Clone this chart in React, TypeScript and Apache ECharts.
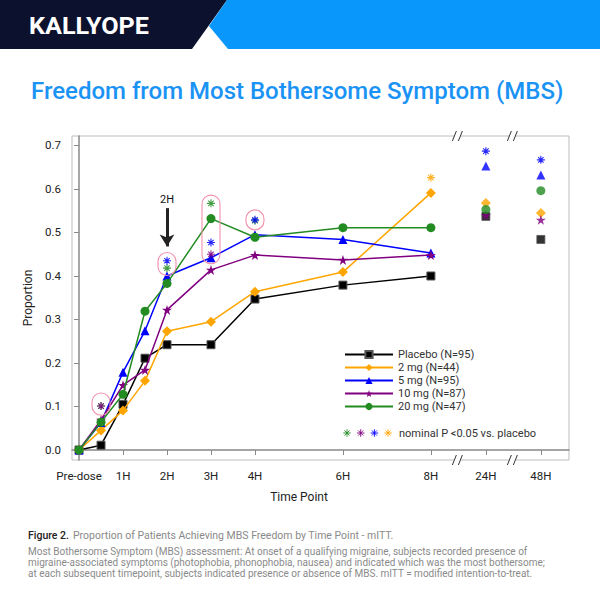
import React, { useEffect, useRef } from "react";
import * as echarts from "echarts";

// ---------- data ----------
const seriesNames = ["Placebo (N=95)", "2 mg (N=44)", "5 mg (N=95)", "10 mg (N=87)", "20 mg (N=47)"];
const seriesColors = ["#000000", "#FFA500", "#0000FF", "#800080", "#228B22"];

const earlyHours = [0, 0.5, 1, 1.5, 2, 3, 4, 6, 8];
const lateHours = [24, 48];

const placebo = [0, 0.011, 0.105, 0.211, 0.242, 0.242, 0.347, 0.379, 0.4];
const placeboLate = [0.537, 0.484];
const mg2 = [0, 0.045, 0.091, 0.159, 0.273, 0.295, 0.364, 0.409, 0.591];
const mg2Late = [0.568, 0.545];
const mg5 = [0, 0.063, 0.179, 0.274, 0.4, 0.442, 0.495, 0.484, 0.453];
const mg5Late = [0.653, 0.632];
const mg10 = [0, 0.069, 0.149, 0.184, 0.322, 0.414, 0.448, 0.437, 0.448];
const mg10Late = [0.54, 0.529];
const mg20 = [0, 0.064, 0.128, 0.319, 0.383, 0.532, 0.489, 0.511, 0.511];
const mg20Late = [0.553, 0.596];

// significance asterisks: [hour, value]
const sigGreen = [[0.5, 0.101], [2, 0.418], [3, 0.567], [4, 0.527]];
const sigPurple = [[0.5, 0.101], [3, 0.45]];
const sigBlue = [[2, 0.435], [3, 0.477], [4, 0.529], [24, 0.687], [48, 0.667]];
const sigOrange = [[8, 0.626]];

// highlight capsules: hour, low value, high value
const capsuleHours = [0.5, 2, 3, 4];
const capsuleLow = [0.08, 0.401, 0.428, 0.506];
const capsuleHigh = [0.131, 0.454, 0.586, 0.552];

const tickHours = [0, 1, 2, 3, 4, 6, 8, 24, 48];
const tickLabels = ["Pre-dose", "1H", "2H", "3H", "4H", "6H", "8H", "24H", "48H"];
const yTicks = [0, 0.1, 0.2, 0.3, 0.4, 0.5, 0.6, 0.7];

// broken time axis: hours after 8H are placed at compressed positions
const brokenPositions: Record<number, number> = { 24: 9.25, 48: 10.5 };
const breakHours = [8.625, 9.875];
const axisPos = (h: number) => (h <= 8 ? h : brokenPositions[h]);

const FONT = "Roboto, 'Noto Sans', sans-serif";
const STAR = "path://M50,0 L61.8,35.1 L98.9,35.1 L68.9,56.8 L80.3,91.9 L50,70.2 L19.7,91.9 L31.1,56.8 L1.1,35.1 L38.2,35.1 Z";
const ASTER = "path://M5,0 L5,10 M0,5 L10,5 M1.6,1.6 L8.4,8.4 M8.4,1.6 L1.6,8.4";
const symbols = ["rect", "diamond", "triangle", STAR, "circle"];
const symbolSizes = [8, 10, 9, 10, 9];

const Y_MIN = -0.023;
const Y_MAX = 0.7218;

echarts.graphic.registerShape(
  "asterisk",
  echarts.graphic.extendPath("M0,-5 L0,5 M-5,0 L5,0 M-3.4,-3.4 L3.4,3.4 M3.4,-3.4 L-3.4,3.4", {})
);

function buildOption() {
  const early = [placebo, mg2, mg5, mg10, mg20];
  const late = [placeboLate, mg2Late, mg5Late, mg10Late, mg20Late];
  const series: any[] = [];
  early.forEach((vals, i) => {
    series.push({
      name: seriesNames[i],
      type: "line",
      data: earlyHours.map((h, k) => [axisPos(h), vals[k]]),
      symbol: symbols[i],
      symbolSize: symbolSizes[i],
      lineStyle: { color: seriesColors[i], width: 1.5 },
      itemStyle: i === 0
        ? { color: "#000", borderColor: "#555", borderWidth: 1 }
        : { color: seriesColors[i] },
      z: 3 + i,
    });
  });
  late.forEach((vals, i) => {
    series.push({
      name: seriesNames[i],
      type: "scatter",
      data: lateHours.map((h, k) => [axisPos(h), vals[k]]),
      symbol: symbols[i],
      symbolSize: symbolSizes[i],
      itemStyle: i === 0
        ? { color: "#000", borderColor: "#555", borderWidth: 1 }
        : { color: seriesColors[i] },
      z: 3 + i,
    });
  });
  const sigs: [number[][], string][] = [
    [sigGreen, seriesColors[4]],
    [sigPurple, seriesColors[3]],
    [sigBlue, seriesColors[2]],
    [sigOrange, seriesColors[1]],
  ];
  sigs.forEach(([pts, c]) => {
    series.push({
      type: "scatter",
      data: pts.map((p) => [axisPos(p[0]), p[1]]),
      symbol: ASTER,
      symbolSize: 8,
      itemStyle: { color: "transparent", borderColor: c, borderWidth: 1.1, opacity: 0.85 },
      z: 10,
      silent: true,
    });
  });
  series.push({
    type: "line",
    data: [],
    silent: true,
    markLine: {
      silent: true,
      animation: false,
      symbol: ["none", "arrow"],
      symbolSize: [11, 12],
      lineStyle: { color: "#222", width: 3, type: "solid" },
      label: { show: true, position: "start", formatter: "2H", color: "#111", fontSize: 11, fontFamily: FONT, distance: 3 },
      data: [[{ coord: [axisPos(2), 0.556] }, { coord: [axisPos(2), 0.468] }]],
    },
  });

  return {
    animation: false,
    backgroundColor: "#ffffff",
    grid: {
      left: 72,
      right: 31,
      top: 136,
      bottom: 140,
      show: true,
      borderColor: "#bdbdbd",
      borderWidth: 1,
      outerBoundsMode: "none",
    },
    legend: {
      orient: "vertical",
      left: 339,
      top: 343,
      itemWidth: 48,
      itemHeight: 9,
      itemGap: 0,
      selectedMode: false,
      data: seriesNames,
      textStyle: { fontSize: 11, color: "#333", fontFamily: FONT, lineHeight: 13 },
    },
    xAxis: {
      type: "value",
      min: -0.16,
      max: 11.14,
      axisLine: { show: true, lineStyle: { color: "#888", width: 1.5 } },
      axisTick: { show: true, length: 5, lineStyle: { color: "#888" }, customValues: tickHours.map(axisPos) },
      axisLabel: {
        customValues: tickHours.map(axisPos),
        formatter: (v: number) => {
          const idx = tickHours.findIndex((h) => Math.abs(axisPos(h) - v) < 1e-6);
          return idx >= 0 ? tickLabels[idx] : "";
        },
        color: "#222",
        fontSize: 11.5,
        fontFamily: FONT,
        margin: 10,
      },
      splitLine: { show: false },
    },
    yAxis: {
      type: "value",
      min: Y_MIN,
      max: Y_MAX,
      name: "Proportion",
      nameLocation: "middle",
      nameGap: 36,
      nameRotate: 90,
      nameTextStyle: { fontSize: 12, color: "#222", fontFamily: FONT },
      axisLine: { show: true, lineStyle: { color: "#888", width: 1.5 } },
      axisTick: { show: true, length: 5, lineStyle: { color: "#888" }, customValues: yTicks },
      axisLabel: {
        customValues: yTicks,
        formatter: (v: number) => v.toFixed(1),
        color: "#222",
        fontSize: 11.5,
        fontFamily: FONT,
        margin: 11,
      },
      splitLine: { show: false },
    },
    series,
  };
}

function textEl(text: string, x: number, y: number, opts: any = {}) {
  return {
    type: "text",
    x,
    y,
    z: 50,
    scaleX: opts.scaleX ?? 1,
    style: {
      text,
      fill: opts.fill ?? "#222",
      font: opts.font ?? `11px ${FONT}`,
      align: opts.align ?? "left",
      verticalAlign: "middle",
      textAlign: opts.align ?? "left",
      textVerticalAlign: "middle",
    },
  };
}

export default function App() {
  const ref = useRef<HTMLDivElement>(null);
  useEffect(() => {
    document.body.style.margin = "0";
    if (!ref.current) return;
    const chart = echarts.init(ref.current, null, { renderer: "svg" });
    chart.setOption(buildOption() as any);

    const toPx = (x: number, y: number) => chart.convertToPixel({ gridIndex: 0 }, [x, y]) as number[];

    const yTop = toPx(0, Y_MAX)[1];
    const yBot = toPx(0, Y_MIN)[1];
    const breakEls: any[] = [];
    breakHours.forEach((b) => {
      const px = toPx(b, 0)[0];
      [yTop, yBot].forEach((yy) => {
        breakEls.push({ type: "rect", z: 60, shape: { x: px - 4, y: yy - 2, width: 6, height: 4 }, style: { fill: "#fff" } });
        breakEls.push({ type: "line", z: 61, shape: { x1: px - 6, y1: yy + 5, x2: px - 2, y2: yy - 5 }, style: { stroke: "#333", lineWidth: 1 } });
        breakEls.push({ type: "line", z: 61, shape: { x1: px, y1: yy + 5, x2: px + 4, y2: yy - 5 }, style: { stroke: "#333", lineWidth: 1 } });
      });
    });

    const capsuleEls = capsuleHours.map((h, k) => {
      const top = toPx(axisPos(h), capsuleHigh[k]);
      const bot = toPx(axisPos(h), capsuleLow[k]);
      const w = 18;
      return {
        type: "rect",
        z: 55,
        shape: { x: top[0] - w / 2, y: top[1], width: w, height: bot[1] - top[1], r: w / 2 },
        style: { fill: "none", stroke: "#F290AC", lineWidth: 1.1 },
      };
    });

    const legendAsterColors = [seriesColors[4], seriesColors[3], seriesColors[2], seriesColors[1]];
    const asterEls = legendAsterColors.map((c, i) => ({
      type: "asterisk",
      x: 347 + i * 13.7,
      y: 433,
      scaleX: 0.75,
      scaleY: 0.75,
      z: 50,
      style: { stroke: c, fill: "none", lineWidth: 1.2 },
    }));

    const bodyFill = "#8a8a8a";
    const graphic = [
      { type: "polygon", z: 40, shape: { points: [[0, 0], [227, 0], [192, 49], [0, 49]] }, style: { fill: "#0C112E" } },
      { type: "polygon", z: 40, shape: { points: [[227, 0], [600, 0], [600, 49], [228, 49], [209, 26]] }, style: { fill: "#0A97FB" } },
      textEl("KALLYOPE", 29, 26, { fill: "#ffffff", font: `bold 24px ${FONT}`, scaleX: 1.05 }),
      textEl("Freedom from Most Bothersome Symptom (MBS)", 31, 91, { fill: "#1A93F5", font: `500 24px ${FONT}` }),
      textEl("Time Point", 299, 497, { align: "center", font: `12px ${FONT}` }),
      textEl("nominal P <0.05 vs. placebo", 399, 433, { fill: "#333", font: `11px ${FONT}` }),
      ...asterEls,
      ...capsuleEls,
      textEl("Figure 2.", 28, 535, { fill: "#222", font: `500 10.5px ${FONT}` }),
      textEl("Proportion of Patients Achieving MBS Freedom by Time Point - mITT.", 73, 535, { fill: bodyFill, font: `10.5px ${FONT}` }),
      textEl("Most Bothersome Symptom (MBS) assessment: At onset of a qualifying migraine, subjects recorded presence of", 28, 551, { fill: bodyFill, font: `10px ${FONT}` }),
      textEl("migraine-associated symptoms (photophobia, phonophobia, nausea) and indicated which was the most bothersome;", 28, 562, { fill: bodyFill, font: `10px ${FONT}` }),
      textEl("at each subsequent timepoint, subjects indicated presence or absence of MBS. mITT = modified intention-to-treat.", 28, 573, { fill: bodyFill, font: `10px ${FONT}` }),
      ...breakEls,
    ];
    chart.setOption({ graphic } as any);
    return () => chart.dispose();
  }, []);
  return <div ref={ref} style={{ width: 600, height: 600 }} />;
}
